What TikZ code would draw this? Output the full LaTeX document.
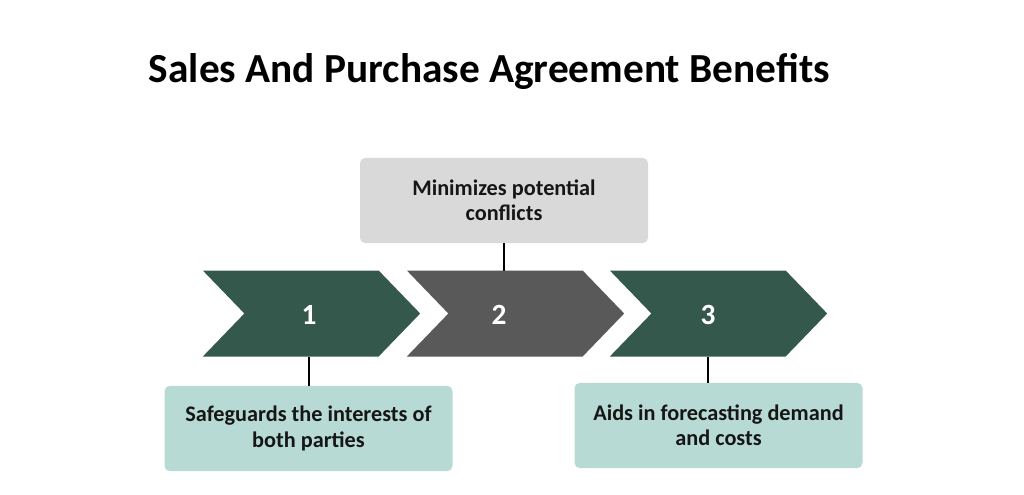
\documentclass[tikz,border=0pt]{standalone}
\usepackage{fontspec}
\setmainfont{Carlito}
\usetikzlibrary{shapes.symbols}
\definecolor{chevgreen}{HTML}{34584C}
\definecolor{chevgray}{HTML}{595959}
\definecolor{notegray}{HTML}{D9D9D9}
\definecolor{noteteal}{HTML}{B8DAD4}
\definecolor{notetext}{HTML}{161616}
\begin{document}
\begin{tikzpicture}[
    x=0.75pt, y=-0.75pt,
    chevron/.style={signal, signal from=west, signal to=east, signal pointer angle=92,
        minimum width=163pt, minimum height=64.5pt, inner sep=0pt, outer sep=0pt},
    num/.style={text=white, font=\bfseries\fontsize{22}{26}\selectfont},
    note/.style={rounded corners=4pt, minimum width=216pt, minimum height=64pt,
        inner sep=0pt, align=center, text=notetext, font=\bfseries\fontsize{16.7}{19}\selectfont},
    link/.style={line width=1.3pt, black}
]
    \useasboundingbox (0,0) rectangle (1024,494);

    % Title
    \node[anchor=base, font=\bfseries\fontsize{31}{37}\selectfont] (title) at (489.5,82.5)
        {Sales And Purchase Agreement Benefits};

    % Chevrons
    \node[chevron, fill=chevgreen] (c1) at (311.5,313.5) {};
    \node[chevron, fill=chevgray]  (c2) at (515.5,313.5) {};
    \node[chevron, fill=chevgreen] (c3) at (718.5,313.5) {};
    \node[num] (n1) at (309,315) {1};
    \node[num] (n2) at (499,315) {2};
    \node[num] (n3) at (708,315) {3};

    % Notes
    \node[note, fill=notegray] (top) at (504,200.5) {Minimizes potential\\conflicts};
    \node[note, fill=noteteal] (b1) at (308.5,428.5) {Safeguards the interests of\\both parties};
    \node[note, fill=noteteal] (b3) at (718.5,425.5) {Aids in forecasting demand\\and costs};

    % Links
    \draw[link] (top.south) -- (top.south |- c2.north);
    \draw[link] (c1.south -| n1) -- (b1.north -| n1);
    \draw[link] (c3.south -| n3) -- (b3.north -| n3);
\end{tikzpicture}
\end{document}
